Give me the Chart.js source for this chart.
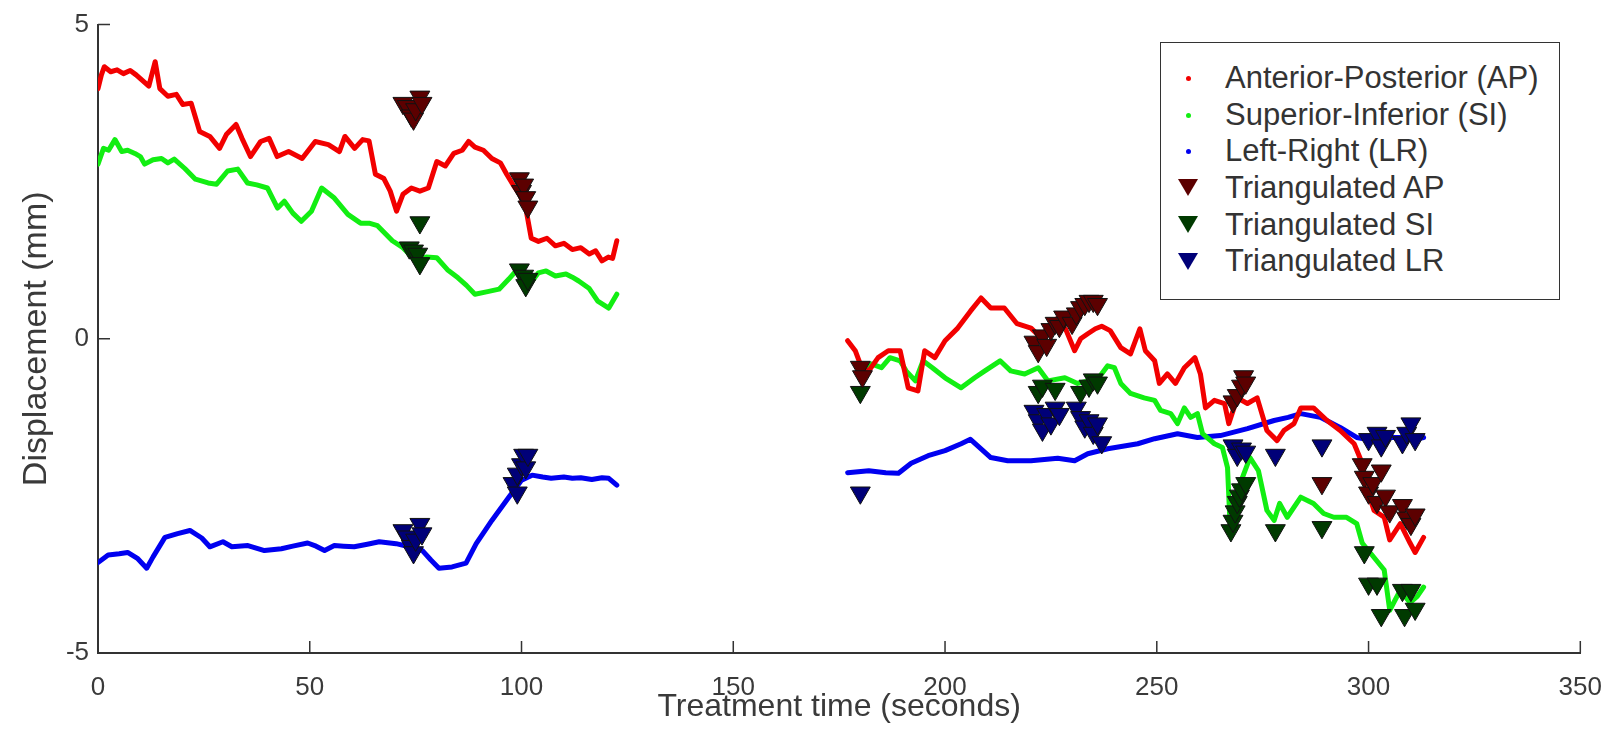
<!DOCTYPE html>
<html lang="en">
<head>
  <meta charset="UTF-8" />
  <title>Displacement vs treatment time</title>
  <script src="https://cdn.jsdelivr.net/npm/chart.js"></script>
  <style>
    body { margin: 0; background: #fff; }
    #wrap { position: relative; width: 1621px; height: 756px; }
    #legend {
      position: absolute; left: 1160px; top: 42px; width: 400px; height: 258px;
      border: 1.5px solid #333; background: #fff; box-sizing: border-box;
      font-family: "Liberation Sans", Arial, sans-serif; font-size: 31px; color: #333;
      padding-top: 17px;
    }
    #legend .row { position: relative; height: 36.7px; line-height: 36.7px; padding-left: 64px; white-space: nowrap; }
    #legend .mk { position: absolute; left: 27px; top: 50%; }
    #legend .dot { width: 5px; height: 5px; border-radius: 50%; margin: -2.5px 0 0 -2.5px; }
    #legend .tri { width: 0; height: 0; border-left: 10px solid transparent; border-right: 10px solid transparent;
      border-top: 17px solid #000; margin: -9px 0 0 -10px; }
  </style>
</head>
<body>
  <div id="wrap">
    <canvas id="motionChart" width="1621" height="756"></canvas>
    <div id="legend"></div>
  </div>

  <script>
    // Continuous tracks, first beam (0-123 s)
    const apT1 = [0, 0.8, 1.5, 3, 4.5, 6, 7.6, 9, 10, 11, 12, 13.5, 14.6, 16.5, 18.5, 20, 22, 24, 26.4, 28.7, 30.3, 32.6, 34, 36, 38.4, 40.4, 42.3, 45, 48.2, 51.3, 54.4, 57, 58.3, 60.6, 62.5, 64, 65.5, 67.5, 69, 70.5, 72, 74, 76, 78, 80, 82, 84, 86, 87.5, 89, 91, 93, 95, 96.5, 98, 99.5, 101, 102.3, 104, 106, 108, 110, 112, 114, 116, 117.5, 119, 120.5, 121.5, 122.5];
    const apV1 = [3.98, 4.2, 4.33, 4.25, 4.28, 4.22, 4.27, 4.2, 4.14, 4.08, 4.02, 4.41, 3.98, 3.86, 3.89, 3.73, 3.75, 3.3, 3.22, 3.03, 3.25, 3.41, 3.19, 2.9, 3.14, 3.19, 2.9, 2.98, 2.87, 3.14, 3.09, 2.98, 3.22, 3.03, 3.17, 3.15, 2.62, 2.55, 2.35, 2.03, 2.3, 2.4, 2.35, 2.4, 2.82, 2.75, 2.95, 3.0, 3.14, 3.05, 3.0, 2.87, 2.8, 2.62, 2.45, 2.3, 2.08, 1.6, 1.55, 1.6, 1.48, 1.52, 1.42, 1.45, 1.35, 1.4, 1.24, 1.3, 1.28, 1.56];

    const siT1 = [0, 1.3, 2.5, 4, 5.6, 7, 8.7, 10, 11, 13, 15, 16.5, 18, 20.5, 23, 26, 28, 30.6, 33, 35.3, 37.5, 40, 42.4, 44, 46, 48, 50.4, 52.8, 55.8, 59, 62, 64, 66, 69.5, 72, 75, 77.5, 80, 82.5, 85, 87, 89, 92, 94.7, 97, 98.7, 100.5, 102.5, 104, 105.8, 108, 110.5, 112, 113.5, 116, 118, 120.6, 122.5];
    const siV1 = [2.78, 3.03, 3.0, 3.17, 2.98, 3.0, 2.95, 2.9, 2.78, 2.85, 2.87, 2.8, 2.86, 2.71, 2.54, 2.48, 2.46, 2.67, 2.7, 2.48, 2.45, 2.4, 2.08, 2.19, 2.0, 1.87, 2.03, 2.4, 2.24, 1.98, 1.84, 1.84, 1.8, 1.56, 1.45, 1.24, 1.3, 1.29, 1.1, 0.97, 0.85, 0.71, 0.75, 0.79, 0.95, 1.08, 1.0, 0.92, 1.05, 1.08, 1.0, 1.03, 0.98, 0.92, 0.8, 0.6, 0.49, 0.71];

    const lrT1 = [0, 2.4, 5, 7, 9.4, 11.5, 13, 15.8, 18.8, 21.7, 24.5, 26.4, 29.5, 31.6, 35.4, 39.3, 43.3, 46, 49.5, 51.5, 53.5, 55.8, 58, 60.5, 63.6, 66.4, 70.4, 73.5, 76.6, 78.6, 80.5, 83.6, 86.9, 89.3, 93, 97, 100, 102.5, 105, 107, 110, 112, 114, 116.6, 119, 120.6, 122.5];
    const lrV1 = [-3.56, -3.44, -3.42, -3.4, -3.5, -3.65, -3.47, -3.16, -3.1, -3.05, -3.17, -3.31, -3.23, -3.31, -3.29, -3.37, -3.34, -3.3, -3.25, -3.3, -3.37, -3.29, -3.3, -3.31, -3.27, -3.23, -3.26, -3.31, -3.37, -3.52, -3.65, -3.63, -3.57, -3.26, -2.89, -2.52, -2.25, -2.17, -2.2, -2.22, -2.2, -2.22, -2.21, -2.24, -2.21, -2.22, -2.33];

    // Continuous tracks, second beam (177-313 s)
    const apT2 = [177, 178.8, 180.3, 182, 184.2, 186.6, 189.4, 191.3, 193.6, 195.2, 197.6, 200, 203, 206, 208.5, 210.8, 214, 217, 220.3, 222.6, 224.5, 226.6, 228.5, 230.6, 232, 233.7, 235.5, 237, 239, 241.5, 243.8, 246, 247.3, 249.5, 250.6, 252.5, 254.4, 256.5, 259, 260.3, 261.5, 263.6, 266, 267, 269, 271.4, 273.7, 276, 278.4, 280, 282.4, 284, 287, 290.2, 293.3, 296.6, 298.5, 299.7, 301.3, 303.7, 305, 307.5, 309.8, 311, 313];
    const apV2 = [-0.03, -0.19, -0.46, -0.51, -0.3, -0.19, -0.19, -0.78, -0.83, -0.19, -0.3, -0.03, 0.17, 0.44, 0.65, 0.49, 0.49, 0.24, 0.17, 0.02, 0.2, 0.33, 0.15, -0.19, 0.0, 0.08, 0.16, 0.2, 0.13, -0.14, -0.24, 0.16, -0.19, -0.35, -0.71, -0.56, -0.71, -0.46, -0.3, -0.56, -1.1, -0.98, -1.03, -1.35, -0.94, -1.03, -0.94, -1.46, -1.62, -1.46, -1.35, -1.1, -1.1, -1.3, -1.46, -1.67, -1.98, -2.41, -2.73, -2.84, -3.2, -2.94, -3.25, -3.4, -3.16];

    const siT2 = [180.2, 182.6, 185, 187, 189.4, 190.8, 193, 194.8, 197, 200, 203.8, 207, 209.4, 213, 215.5, 218.8, 222, 224.3, 228.3, 231.3, 233.7, 235.3, 238.4, 240, 241.5, 243.8, 247, 249.5, 250.9, 253.3, 254.9, 256.5, 258, 259.6, 260.8, 263.6, 265.5, 266.7, 267.4, 269.7, 272, 274, 276, 277.7, 279, 280.8, 284, 287, 289.4, 291.8, 294.8, 297.2, 298.5, 301.3, 303.7, 305, 307.5, 309.8, 311.5, 313];
    const siV2 = [-0.56, -0.4, -0.46, -0.3, -0.35, -0.51, -0.67, -0.35, -0.46, -0.62, -0.78, -0.62, -0.51, -0.35, -0.51, -0.56, -0.46, -0.67, -0.62, -0.71, -0.67, -0.71, -0.43, -0.46, -0.71, -0.87, -0.94, -0.98, -1.14, -1.19, -1.35, -1.1, -1.25, -1.19, -1.51, -1.67, -1.73, -2.05, -3.1, -2.3, -1.89, -2.1, -2.73, -2.89, -2.62, -2.84, -2.52, -2.62, -2.78, -2.84, -2.84, -2.94, -3.25, -3.48, -3.68, -4.32, -4.0, -4.2, -4.1, -3.95];

    const lrT2 = [177, 182, 186, 189, 192, 196, 200, 203.8, 206, 208.5, 210.8, 214.8, 220.3, 226.6, 230.6, 233.7, 238.4, 245.5, 249.5, 254.9, 259.6, 265, 271.4, 277.7, 281, 284, 288.6, 293.3, 297.2, 301.3, 304.4, 308.3, 311, 313];
    const lrV2 = [-2.13, -2.1, -2.13, -2.14, -1.98, -1.86, -1.78, -1.67, -1.6, -1.75, -1.89, -1.94, -1.94, -1.9, -1.94, -1.83, -1.75, -1.67, -1.59, -1.51, -1.57, -1.54, -1.43, -1.3, -1.25, -1.19, -1.25, -1.41, -1.57, -1.62, -1.57, -1.57, -1.6, -1.57];

    // Triangulated positions
    const apTriT = [72, 73, 74, 74.5, 75, 76, 76.5, 99.5, 100, 100.5, 101, 101.5, 180, 180.5, 221, 222, 223, 224, 225, 226, 227, 228, 230, 231, 232, 233, 234, 235, 236, 268, 269, 270, 270.5, 271, 289, 298.5, 299, 300, 301, 302, 303, 304, 305, 308, 309, 310, 311];
    const apTriV = [3.75, 3.7, 3.55, 3.5, 3.65, 3.85, 3.75, 2.55, 2.35, 2.45, 2.25, 2.1, -0.45, -0.6, -0.05, -0.2, 0.05, -0.1, 0.15, 0.25, 0.2, 0.35, 0.25, 0.4, 0.5, 0.55, 0.6, 0.6, 0.55, -1.0, -0.9, -0.75, -0.6, -0.7, -2.3, -2.0, -2.2, -2.45, -2.3, -2.6, -2.1, -2.5, -2.75, -2.65, -2.85, -2.95, -2.8];

    const siTriT = [73.5, 74.5, 75.5, 76, 76, 99.5, 100.5, 101, 101.5, 180, 222, 223, 226, 232, 234, 235, 236, 267.5, 268, 268.5, 269, 269.5, 270, 271, 278, 289, 299, 300, 302, 303, 308, 308.5, 310, 311];
    const siTriV = [1.45, 1.4, 1.35, 1.2, 1.85, 1.1, 1.0, 0.85, 0.95, -0.85, -0.85, -0.75, -0.8, -0.85, -0.75, -0.65, -0.7, -3.05, -2.9, -2.75, -2.6, -2.5, -2.4, -2.3, -3.05, -3.0, -3.4, -3.9, -3.9, -4.4, -4.0, -4.4, -4.0, -4.3];

    const lrTriT = [72, 73, 74, 74.5, 75, 76, 76.5, 98, 99, 99, 100, 100.5, 101, 101.5, 180, 221, 222, 223, 224, 225, 226, 227, 231, 232, 233, 234, 235, 236, 237, 268, 269, 270, 271, 278, 289, 300, 302, 303, 304, 308, 309, 310, 311];
    const lrTriV = [-3.05, -3.15, -3.3, -3.4, -3.2, -2.95, -3.1, -2.3, -2.15, -2.45, -2.0, -1.85, -2.05, -1.85, -2.45, -1.15, -1.3, -1.45, -1.2, -1.35, -1.1, -1.2, -1.1, -1.25, -1.4, -1.3, -1.5, -1.35, -1.65, -1.7, -1.85, -1.75, -1.8, -1.85, -1.7, -1.6, -1.5, -1.7, -1.55, -1.65, -1.5, -1.35, -1.6];

    const xTicks = [0, 50, 100, 150, 200, 250, 300, 350];
    const yTicks = [-5, 0, 5];
    const seriesNames = ['Anterior-Posterior (AP)', 'Superior-Inferior (SI)', 'Left-Right (LR)',
      'Triangulated AP', 'Triangulated SI', 'Triangulated LR'];

    const lineColors = ['#f20000', '#12ee12', '#0000f0'];
    const triColors = ['#5c0000', '#003a00', '#000078'];

    const pts = (ts, vs) => ts.map((t, i) => ({ x: t, y: vs[i] }));
    // two beams joined with a gap
    const track = (t1, v1, t2, v2) => pts(t1, v1).concat([{ x: 150, y: null }], pts(t2, v2));

    function lineSet(label, data, color) {
      return {
        label, data, showLine: true, spanGaps: false,
        borderColor: color, backgroundColor: color, borderWidth: 5,
        borderJoinStyle: 'round', borderCapStyle: 'round',
        pointRadius: 0, tension: 0, order: 2
      };
    }
    function triSet(label, data, color) {
      return {
        label, data, showLine: false,
        pointStyle: 'triangle', rotation: 180, pointRadius: 11.5,
        backgroundColor: color, borderColor: '#111', borderWidth: 1, order: 1
      };
    }

    // inward tick marks like the original plot
    const inwardTicks = {
      id: 'inwardTicks',
      afterDraw(chart) {
        const { ctx, chartArea, scales: { x, y } } = chart;
        ctx.save();
        ctx.strokeStyle = '#333';
        ctx.lineWidth = 1.5;
        ctx.beginPath();
        x.ticks.forEach(t => {
          const px = x.getPixelForValue(t.value);
          ctx.moveTo(px, chartArea.bottom);
          ctx.lineTo(px, chartArea.bottom - 12);
        });
        y.ticks.forEach(t => {
          const py = y.getPixelForValue(t.value);
          ctx.moveTo(chartArea.left, py);
          ctx.lineTo(chartArea.left + 12, py);
        });
        ctx.stroke();
        ctx.restore();
      }
    };

    const fontFamily = '"Liberation Sans", Arial, sans-serif';

    new Chart(document.getElementById('motionChart'), {
      type: 'scatter',
      data: {
        datasets: [
          lineSet(seriesNames[0], track(apT1, apV1, apT2, apV2), lineColors[0]),
          lineSet(seriesNames[1], track(siT1, siV1, siT2, siV2), lineColors[1]),
          lineSet(seriesNames[2], track(lrT1, lrV1, lrT2, lrV2), lineColors[2]),
          triSet(seriesNames[3], pts(apTriT, apTriV), triColors[0]),
          triSet(seriesNames[4], pts(siTriT, siTriV), triColors[1]),
          triSet(seriesNames[5], pts(lrTriT, lrTriV), triColors[2])
        ]
      },
      options: {
        responsive: false,
        animation: false,
        layout: { padding: { top: 23, right: 37, left: 0, bottom: 0 } },
        plugins: { legend: { display: false }, tooltip: { enabled: false } },
        scales: {
          x: {
            type: 'linear', min: 0, max: 350,
            afterBuildTicks: s => { s.ticks = xTicks.map(v => ({ value: v })); },
            afterFit: s => { s.height = 103; },
            grid: { display: true, drawOnChartArea: false, drawTicks: false },
            border: { display: true, color: '#333', width: 2 },
            ticks: { padding: 19, color: '#3a3a3a', font: { family: fontFamily, size: 26 } },
            title: {
              display: true, text: 'Treatment time (seconds)', color: '#3a3a3a',
              font: { family: fontFamily, size: 32 }, padding: { bottom: 30 }
            }
          },
          y: {
            type: 'linear', min: -5, max: 5,
            afterBuildTicks: s => { s.ticks = yTicks.map(v => ({ value: v })); },
            afterFit: s => { s.width = 98; },
            grid: { display: true, drawOnChartArea: false, drawTicks: false },
            border: { display: true, color: '#333', width: 2 },
            ticks: { padding: 9, color: '#3a3a3a', font: { family: fontFamily, size: 26 } },
            title: {
              display: true, text: 'Displacement (mm)', color: '#3a3a3a',
              font: { family: fontFamily, size: 34 }, padding: { top: 16 }
            }
          }
        }
      },
      plugins: [inwardTicks]
    });

    // legend box, drawn in html over the plot
    const legend = document.getElementById('legend');
    seriesNames.forEach((name, i) => {
      const row = document.createElement('div');
      row.className = 'row';
      const mk = document.createElement('span');
      if (i < 3) {
        mk.className = 'mk dot';
        mk.style.background = lineColors[i];
      } else {
        mk.className = 'mk tri';
        mk.style.borderTopColor = triColors[i - 3];
      }
      row.appendChild(mk);
      row.appendChild(document.createTextNode(name));
      legend.appendChild(row);
    });
  </script>
</body>
</html>
